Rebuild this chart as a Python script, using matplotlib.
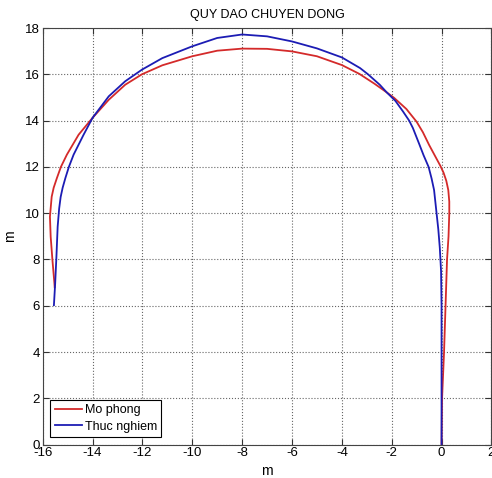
import matplotlib
matplotlib.use('Agg')
import matplotlib.pyplot as plt

plt.rcParams['font.family'] = ['Liberation Sans', 'DejaVu Sans']
plt.rcParams['axes.unicode_minus'] = False

# simulated path (Mo phong)
sim_x = [0.0, 0.02, 0.10, 0.16, 0.22, 0.28, 0.31, 0.31, 0.27, 0.19, 0.08, -0.05, -0.21,
         -0.5, -0.75, -1.0, -1.41, -1.9, -2.2, -2.7, -3.3, -4.0, -5.0, -6.0, -7.0, -8.0,
         -9.0, -10.0, -11.2, -12.02, -12.69, -13.35, -14.0, -14.56, -15.03, -15.27, -15.43,
         -15.56, -15.64, -15.71, -15.68, -15.61, -15.53, -15.52]
sim_y = [0.0, 2.0, 4.0, 6.0, 8.0, 9.0, 10.0, 10.5, 11.0, 11.4, 11.75, 12.05, 12.37,
         12.95, 13.5, 13.95, 14.5, 14.98, 15.22, 15.6, 16.02, 16.4, 16.78, 16.99, 17.1, 17.11,
         17.02, 16.78, 16.39, 16.0, 15.55, 14.9, 14.12, 13.39, 12.53, 12.0, 11.52,
         11.1, 10.71, 9.85, 8.98, 7.98, 6.97, 6.8]

# measured path (Thuc nghiem)
exp_x = [0.0, 0.0, 0.0, 0.0, -0.02, -0.07, -0.13, -0.2, -0.3, -0.4, -0.52, -0.72, -0.9,
         -1.15, -1.3, -1.55, -1.85, -2.2, -2.48, -2.95, -3.27, -4.0, -5.0, -6.0, -7.0, -8.0,
         -9.0, -10.0, -11.2, -12.02, -12.69, -13.35, -14.0, -14.36, -14.76, -14.95, -15.09,
         -15.2, -15.28, -15.34, -15.4, -15.45, -15.5, -15.55]
exp_y = [0.0, 2.0, 4.0, 6.0, 7.5, 8.5, 9.3, 10.0, 11.0, 11.5, 12.0, 12.5, 13.0,
         13.68, 14.0, 14.4, 14.85, 15.22, 15.55, 16.0, 16.27, 16.73, 17.12, 17.42, 17.64, 17.72,
         17.57, 17.21, 16.7, 16.2, 15.7, 15.05, 14.12, 13.39, 12.53, 12.0, 11.52,
         11.1, 10.7, 10.2, 9.42, 8.12, 6.97, 6.03]

fig = plt.figure(figsize=(4.92, 4.78), dpi=100)
ax = fig.add_axes([0.0868, 0.0697, 0.912, 0.8717])

ax.plot(sim_x, sim_y, color='#d42a2a', lw=1.3, label='Mo phong')
ax.plot(exp_x, exp_y, color='#1c1cb4', lw=1.3, label='Thuc nghiem')

ax.set_xlim(-16, 2)
ax.set_ylim(0, 18)
ax.set_xticks(range(-16, 3, 2))
ax.set_yticks(range(0, 19, 2))
ax.grid(True, linestyle=':', color='#666666', lw=0.8)
ax.tick_params(direction='in', top=True, right=True, labelsize=9.5, length=4, pad=2,
               colors='#333333', labelcolor='black')
for s in ax.spines.values():
    s.set_color('#444444')

ax.set_title('QUY DAO CHUYEN DONG', fontsize=9, pad=7)
ax.set_xlabel('m', fontsize=10, labelpad=3)
ax.set_ylabel('m', fontsize=10, labelpad=6)

leg = ax.legend(loc='lower left', fontsize=9, fancybox=False, framealpha=1,
                edgecolor='black', handlelength=2.2, handletextpad=0.2,
                borderpad=0.35, labelspacing=0.35, borderaxespad=0.6)
leg.get_frame().set_linewidth(0.8)

fig.savefig('out.png', dpi=100)
